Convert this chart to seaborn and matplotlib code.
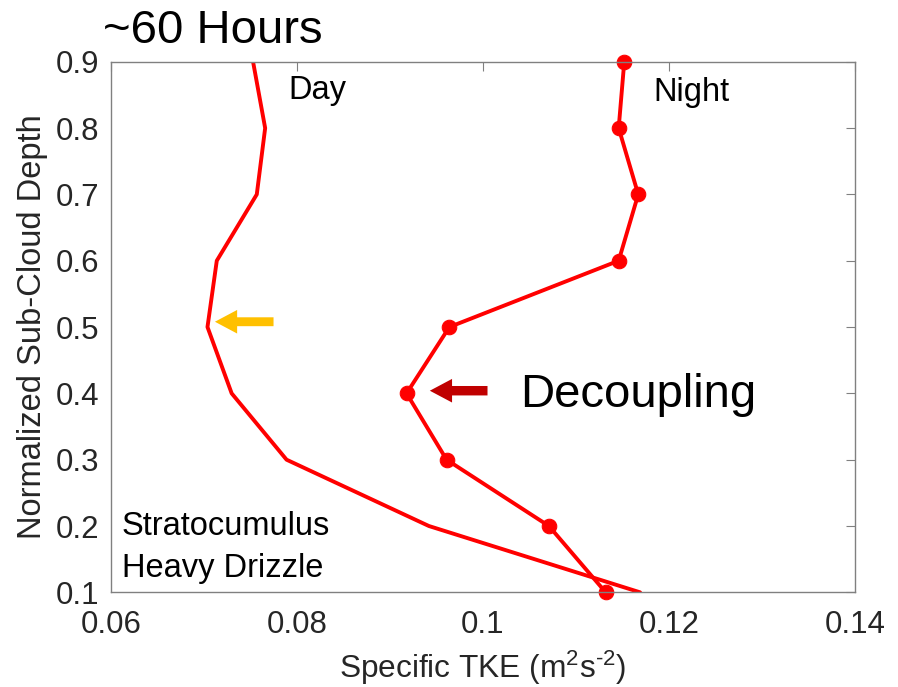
import matplotlib
matplotlib.use("Agg")
import matplotlib.pyplot as plt
import seaborn as sns
import pandas as pd

# ---- data ----
depth = [0.9, 0.8, 0.7, 0.6, 0.5, 0.4, 0.3, 0.2, 0.1]
tke_day = [0.0753, 0.0766, 0.0757, 0.0714, 0.0704, 0.0730, 0.0789, 0.0942, 0.1169]
tke_night = [0.1152, 0.1146, 0.1167, 0.1146, 0.0964, 0.0918, 0.0961, 0.1071, 0.1132]
x_ticks = [0.06, 0.08, 0.1, 0.12, 0.14]
x_tick_labels = ["0.06", "0.08", "0.1", "0.12", "0.14"]
y_ticks = [0.1, 0.2, 0.3, 0.4, 0.5, 0.6, 0.7, 0.8, 0.9]
y_tick_labels = ["0.1", "0.2", "0.3", "0.4", "0.5", "0.6", "0.7", "0.8", "0.9"]

sns.set_style("white")
plt.rcParams["font.family"] = ["Liberation Sans", "DejaVu Sans"]
plt.rcParams["text.color"] = "black"
plt.rcParams["mathtext.fontset"] = "custom"
plt.rcParams["mathtext.rm"] = "Liberation Sans"
plt.rcParams["mathtext.it"] = "Liberation Sans"
plt.rcParams["mathtext.bf"] = "Liberation Sans"

df_day = pd.DataFrame({"tke": tke_day, "depth": depth})
df_night = pd.DataFrame({"tke": tke_night, "depth": depth})

fig = plt.figure(figsize=(8.98, 6.87), dpi=100)
ax = fig.add_axes([0.1233, 0.1378, 0.8288, 0.7723])

red = "#FF0000"
sns.lineplot(data=df_day, x="tke", y="depth", sort=False, estimator=None,
             color=red, linewidth=2.8, ax=ax, clip_on=True)
sns.lineplot(data=df_night, x="tke", y="depth", sort=False, estimator=None,
             color=red, linewidth=2.8, marker="o", markersize=10.5,
             markeredgecolor=red, markerfacecolor=red, ax=ax, clip_on=False)

ax.set_xlim(0.06, 0.14)
ax.set_ylim(0.1, 0.9)
ax.set_xticks(x_ticks)
ax.set_xticklabels(x_tick_labels)
ax.set_yticks(y_ticks)
ax.set_yticklabels(y_tick_labels)

gray = "#262626"
ax.tick_params(axis="both", direction="in", length=6.5, width=0.8,
               color="#808080", labelsize=22.5, labelcolor=gray,
               top=True, right=True)
ax.tick_params(axis="x", pad=13)
ax.tick_params(axis="y", pad=8)
for s in ax.spines.values():
    s.set_color("#808080")
    s.set_linewidth(1.0)
    s.set_visible(True)

ax.set_xlabel("")
ax.set_ylabel("")
fig.text(483 / 898, 1 - 668 / 687, r"Specific TKE (m$^{2}$s$^{\text{-}2}$)", fontsize=22.8,
         color=gray, ha="center", va="center")
fig.text(33 / 898, 1 - 327 / 687, "Normalized Sub-Cloud Depth", fontsize=23.5,
         color=gray, ha="center", va="center", rotation=90)

# texts
fig.text(103 / 898, 1 - 43 / 687, "~60 Hours", fontsize=34, color="black",
         ha="left", va="baseline")
ax.text(0.0791, 0.8433, "Day", fontsize=23.5, color="black", ha="left", va="baseline")
ax.text(0.1183, 0.8408, "Night", fontsize=23.5, color="black", ha="left", va="baseline")
ax.text(0.0612, 0.1864, "Stratocumulus", fontsize=23.5, color="black", ha="left", va="baseline")
ax.text(0.0612, 0.1236, "Heavy Drizzle", fontsize=23.5, color="black", ha="left", va="baseline")
ax.text(0.104, 0.3794, "Decoupling", fontsize=34, color="black", ha="left", va="baseline")

# arrows
ax.annotate("", xy=(0.0712, 0.508), xytext=(0.0775, 0.508),
            arrowprops=dict(arrowstyle="simple,head_width=0.85,head_length=0.8,tail_width=0.32",
                            color="#FFC000", shrinkA=0, shrinkB=0, mutation_scale=20, lw=0))
ax.annotate("", xy=(0.0943, 0.404), xytext=(0.1005, 0.404),
            arrowprops=dict(arrowstyle="simple,head_width=0.85,head_length=0.8,tail_width=0.34",
                            color="#C00000", shrinkA=0, shrinkB=0, mutation_scale=20, lw=0))

fig.savefig("out.png", dpi=100)
